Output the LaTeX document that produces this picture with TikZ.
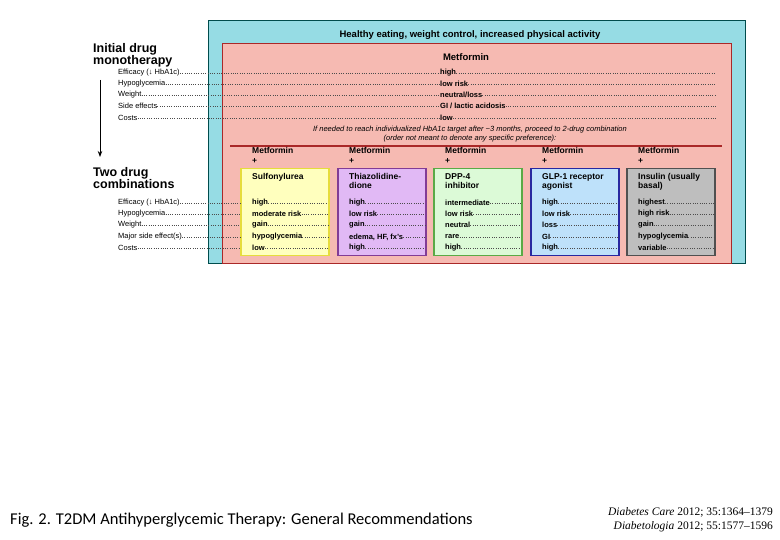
\documentclass[tikz,border=0pt]{standalone}
\usepackage{fontspec}
\setmainfont{Liberation Sans}
\newfontfamily\capfont{Carlito}
\newfontfamily\serfont{Liberation Serif}
\usetikzlibrary{arrows.meta}
\definecolor{teal1}{RGB}{150,220,228}
\definecolor{salm}{RGB}{246,186,178}
\definecolor{dred}{RGB}{170,40,40}
\definecolor{f1}{RGB}{255,255,190}\definecolor{d1}{RGB}{230,220,60}
\definecolor{f2}{RGB}{225,185,245}\definecolor{d2}{RGB}{130,60,150}
\definecolor{f3}{RGB}{220,250,215}\definecolor{d3}{RGB}{90,170,70}
\definecolor{f4}{RGB}{190,225,250}\definecolor{d4}{RGB}{40,40,160}
\definecolor{f5}{RGB}{190,190,190}\definecolor{d5}{RGB}{80,80,80}
\tikzset{
 lab/.style={anchor=west,inner sep=0pt,font=\fontsize{7.5}{8}\selectfont},
 val/.style={anchor=west,inner sep=0pt,font=\fontsize{7.5}{8}\selectfont\bfseries},
 big/.style={anchor=west,inner sep=0pt,align=left,font=\fontsize{12.5}{12}\selectfont\bfseries},
 dline/.style={dotted,line width=0.3pt,gray!60!black},
 drug/.style={draw=d#1,line width=1.5pt,fill=f#1,minimum width=88pt,minimum height=87pt,anchor=north west,inner sep=0pt},
 ttl/.style={anchor=north west,inner sep=0pt,align=left,font=\fontsize{8.5}{9}\selectfont\bfseries},
}
\begin{document}
\begin{tikzpicture}[x=1pt,y=-1pt]
\useasboundingbox (0,0) rectangle (780,540);
\fill[white] (0,0) rectangle (780,540);
\node[draw=teal!60!black,fill=teal1,line width=1pt,minimum width=537pt,minimum height=243pt,anchor=north west,inner sep=0pt] (outer) at (208,20) {};
\node[font=\fontsize{9.5}{10}\selectfont\bfseries] (hdr) at (470,35) {Healthy eating, weight control, increased physical activity};
\node[draw=dred,fill=salm,line width=1pt,minimum width=509pt,minimum height=220pt,anchor=north west,inner sep=0pt] (inner) at (222,43) {};
\node[font=\fontsize{9.5}{10}\selectfont\bfseries] (met) at (466,57) {Metformin};
\node[big] (init) at (93,55) {Initial drug\\monotherapy};
\node[big] (two) at (93,178) {Two drug\\combinations};
\coordinate (a1) at (100,80); \coordinate (a2) at (100,157);
\draw[-{Stealth[length=6pt]},line width=1pt] (a1) -- (a2);
\foreach \i/\l/\v [count=\k] in {73/{Efficacy (↓ HbA1c)}/high, 84/Hypoglycemia/low risk, 95/Weight/{neutral/loss}, 106/Side effects/{GI / lactic acidosis}, 118/Costs/low}{
 \node[lab] (ml\k) at (118,\i) {\l};
 \node[val] (mv\k) at (440,\i) {\v};
 \coordinate (me\k) at (716,\i);
 \draw[dline] (ml\k.east) -- (mv\k.west);
 \draw[dline] (mv\k.east) -- (me\k);
}
\node[font=\fontsize{7.5}{9}\selectfont\itshape,align=center] (ifn) at (470,134) {If needed to reach individualized HbA1c target after \textasciitilde3 months, proceed to 2-drug combination\\(order not meant to denote any specific preference):};
\coordinate (r1) at (230,146); \coordinate (r2) at (722,146);
\draw[dred,line width=1.2pt] (r1) -- (r2);
\foreach \x/\t [count=\k] in {240/Sulfonylurea, 337/{Thiazolidine-\\dione}, 433/{DPP-4\\inhibitor}, 530/{GLP-1 receptor\\agonist}, 626/{Insulin (usually\\basal)}}{
 \node[inner sep=0pt,font=\fontsize{8.5}{10}\selectfont\bfseries,align=left,anchor=north west] (mp\k) at (\x+12,147) {Metformin\\+};
 \node[drug=\k] (b\k) at (\x,168) {};
 \node[ttl] (bt\k) at (\x+12,173) {\t};
}
\foreach \i/\l [count=\k] in {203/{Efficacy (↓ HbA1c)}, 214/Hypoglycemia, 225/Weight, 237/Major side effect(s), 248/Costs}{
 \node[lab] (tl\k) at (118,\i) {\l};
 \coordinate (te\k) at (240,\i);
 \draw[dline] (tl\k.east) -- (te\k);
}
\foreach \x [count=\j] in {252,349,445,542,638}{
 \foreach \i [count=\k] in {203,214,225,237,248}{ \coordinate (c\j\k) at (\x+76,\i); }
}
\foreach \j/\x/\a/\b/\c/\d/\e in {1/252/high/moderate risk/gain/hypoglycemia/low, 2/349/high/low risk/gain/{edema, HF, fx's}/high, 3/445/intermediate/low risk/neutral/rare/high, 4/542/high/low risk/loss/GI/high, 5/638/highest/high risk/gain/hypoglycemia/variable}{
 \node[val] (v\j1) at (\x,203) {\a};
 \node[val] (v\j2) at (\x,214) {\b};
 \node[val] (v\j3) at (\x,225) {\c};
 \node[val] (v\j4) at (\x,237) {\d};
 \node[val] (v\j5) at (\x,248) {\e};
 \foreach \k in {1,...,5}{\draw[dline] (v\j\k.east) -- (c\j\k);}
}
\node[anchor=west,inner sep=0pt,font=\capfont\fontsize{16.5}{16}\selectfont] (cap) at (10,520) {Fig. 2. T2DM Antihyperglycemic Therapy: General Recommendations};
\node[anchor=east,inner sep=0pt,align=right,font=\serfont\fontsize{11.5}{14}\selectfont] (ref) at (773,520) {\textit{Diabetes Care} 2012; 35:1364–1379\\\textit{Diabetologia} 2012; 55:1577–1596};
\end{tikzpicture}
\end{document}
